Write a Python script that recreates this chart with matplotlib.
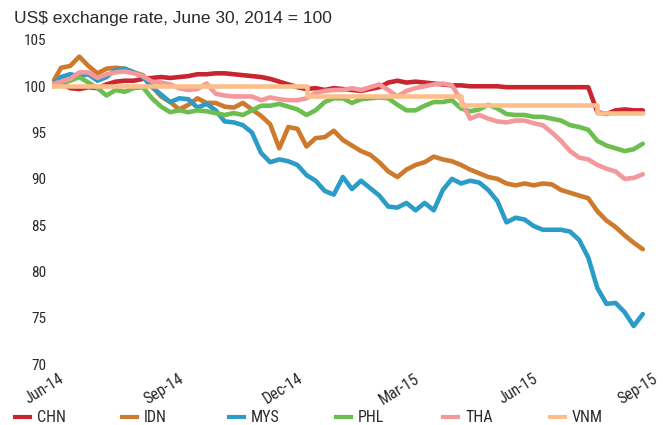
import numpy as np
import pandas as pd
import matplotlib
matplotlib.use('Agg')
import matplotlib.pyplot as plt
from matplotlib import font_manager
from matplotlib.lines import Line2D
from matplotlib.transforms import ScaledTranslation

# weekly readings, Jun 30 2014 -> Sep 28 2015
dates = pd.date_range('2014-06-30', periods=66, freq='7D')

chn = [100.0, 100.3, 99.8, 99.7, 99.9, 99.8, 100.2, 100.5, 100.6, 100.6,
       100.8, 100.9, 101.0, 100.9, 101.0, 101.1, 101.3, 101.3, 101.4, 101.4,
       101.3, 101.2, 101.1, 101.0, 100.8, 100.5, 100.2, 99.9, 99.7, 99.8,
       99.6, 99.8, 99.7, 99.6, 99.5, 99.7, 99.9, 100.4, 100.6, 100.4,
       100.5, 100.4, 100.3, 100.2, 100.1, 100.1, 100.0, 100.0, 100.0, 100.0,
       99.9, 99.9, 99.9, 99.9, 99.9, 99.9, 99.9, 99.9, 99.9, 99.9,
       97.2, 97.0, 97.4, 97.5, 97.4, 97.4]
idn = [100.3, 102.0, 102.2, 103.2, 102.2, 101.4, 101.9, 102.0, 101.9, 101.5,
       101.2, 100.0, 98.9, 98.3, 97.5, 98.0, 98.7, 98.2, 98.2, 97.8,
       97.7, 98.2, 97.5, 96.8, 95.9, 93.3, 95.6, 95.4, 93.5, 94.4,
       94.5, 95.2, 94.2, 93.6, 93.0, 92.6, 91.8, 90.8, 90.2, 91.0,
       91.5, 91.8, 92.4, 92.1, 91.9, 91.5, 91.0, 90.6, 90.2, 90.0,
       89.5, 89.3, 89.5, 89.3, 89.5, 89.4, 88.8, 88.5, 88.2, 87.9,
       86.5, 85.5, 84.8, 83.9, 83.1, 82.4]
mys = [100.1, 101.0, 101.3, 101.1, 101.3, 100.6, 101.0, 101.8, 101.9, 101.5,
       101.0, 99.9, 99.1, 98.3, 98.7, 98.6, 97.7, 98.1, 97.4, 96.2,
       96.1, 95.8, 95.0, 92.8, 91.8, 92.1, 91.9, 91.5, 90.4, 89.8,
       88.7, 88.3, 90.2, 88.9, 89.8, 89.0, 88.2, 87.0, 86.9, 87.4,
       86.6, 87.4, 86.6, 88.8, 90.0, 89.5, 89.8, 89.6, 88.8, 87.6,
       85.3, 85.8, 85.6, 84.9, 84.5, 84.5, 84.5, 84.3, 83.4, 81.5,
       78.2, 76.5, 76.6, 75.6, 74.1, 75.4]
phl = [100.0, 100.3, 100.6, 101.0, 100.4, 99.8, 99.0, 99.6, 99.4, 99.8,
       99.9, 98.7, 97.8, 97.2, 97.4, 97.2, 97.4, 97.3, 97.1, 96.9,
       97.1, 96.9, 97.4, 97.9, 97.9, 98.1, 97.8, 97.5, 96.9, 97.4,
       98.3, 98.7, 98.7, 98.2, 98.6, 98.7, 98.8, 98.7, 98.0, 97.4,
       97.4, 97.9, 98.3, 98.3, 98.5, 97.6, 97.3, 97.5, 98.0, 97.6,
       97.0, 96.9, 96.9, 96.7, 96.7, 96.5, 96.3, 95.8, 95.6, 95.3,
       94.1, 93.6, 93.3, 93.0, 93.2, 93.8]
tha = [100.2, 100.5, 100.8, 101.5, 101.5, 100.9, 101.3, 101.5, 101.6, 101.4,
       101.1, 100.5, 100.4, 100.2, 99.8, 99.6, 99.7, 100.3, 99.2, 99.0,
       98.9, 98.9, 98.9, 98.5, 98.8, 98.6, 98.5, 98.5, 98.7, 99.3,
       99.5, 99.6, 99.6, 99.8, 99.6, 99.9, 100.2, 99.6, 98.9, 99.5,
       99.8, 100.0, 100.2, 100.3, 100.1, 98.5, 96.5, 96.9, 96.5, 96.2,
       96.1, 96.3, 96.3, 96.0, 95.8, 95.0, 94.1, 93.0, 92.3, 92.1,
       91.5, 91.1, 90.8, 90.0, 90.1, 90.5]
vnm = [100.0] * 28 + [99.0] * 17 + [98.0] * 15 + [97.1] * 6

names = ['CHN', 'IDN', 'MYS', 'PHL', 'THA', 'VNM']
series = [chn, idn, mys, phl, tha, vnm]
colors = ['#c8262f', '#ce7a2c', '#2b9bc8', '#6cbe50', '#f4989c', '#fcbe8a']

tick_dates = pd.to_datetime(['2014-06-30', '2014-09-30', '2014-12-31',
                             '2015-03-31', '2015-06-30', '2015-09-30'])
tick_labels = ['Jun-14', 'Sep-14', 'Dec-14', 'Mar-15', 'Jun-15', 'Sep-15']

# pick a condensed face if there is one, else plain Liberation Sans
avail = {f.name for f in font_manager.fontManager.ttflist}
narrow_name = None
for cand in ['Liberation Sans Narrow', 'Arial Narrow', 'Roboto Condensed',
             'DejaVu Sans Condensed', 'Open Sans Condensed']:
    if cand in avail:
        narrow_name = cand
        break
if narrow_name is None:
    narrow = ['Liberation Sans', 'DejaVu Sans']
    small = 10
else:
    narrow = [narrow_name, 'DejaVu Sans']
    small = 11

txt_col = '#2a2a2a'

fig = plt.figure(figsize=(6.67, 4.25), dpi=100)
ax = fig.add_axes([0.078, 0.1435, 0.8935, 0.7624])

for name, vals, c in zip(names, series, colors):
    ds = 'steps-post' if name == 'VNM' else 'default'
    ax.plot(dates, vals, color=c, lw=3.3, drawstyle=ds,
            solid_capstyle='round', solid_joinstyle='round')

ax.set_ylim(70, 105)
ax.set_yticks(np.arange(70, 106, 5))
ax.set_xlim(pd.Timestamp('2014-06-30'), pd.Timestamp('2015-10-02'))
ax.set_xticks(tick_dates)
ax.set_xticklabels(tick_labels)

for s in ax.spines.values():
    s.set_visible(False)
ax.tick_params(length=0, labelsize=small, colors=txt_col)
ax.tick_params(axis='y', pad=4)
ax.tick_params(axis='x', pad=5)

for lab in ax.get_yticklabels():
    lab.set_family(narrow)
off = ScaledTranslation(0.065, 0, fig.dpi_scale_trans)
for lab in ax.get_xticklabels():
    lab.set_family(narrow)
    lab.set_fontsize(small + 0.5)
    lab.set_rotation(32)
    lab.set_rotation_mode('anchor')
    lab.set_ha('right')
    lab.set_va('top')
    lab.set_transform(lab.get_transform() + off)

fig.text(14 / 667, 1 - 18 / 425, 'US$ exchange rate, June 30, 2014 = 100',
         fontsize=12.5, family=['Liberation Sans', 'DejaVu Sans'],
         color=txt_col, va='center', ha='left')

# legend, evenly spaced along the bottom
for i, (name, c) in enumerate(zip(names, colors)):
    x0 = (15 + 107 * i) / 667
    y0 = 1 - 417 / 425
    fig.add_artist(Line2D([x0, x0 + 15 / 667], [y0, y0], transform=fig.transFigure,
                          color=c, lw=3.0))
    fig.text(x0 + 22 / 667, y0, name, fontsize=small + 0.5, family=narrow,
             color=txt_col, va='center', ha='left')

fig.savefig('out.png', dpi=100)
